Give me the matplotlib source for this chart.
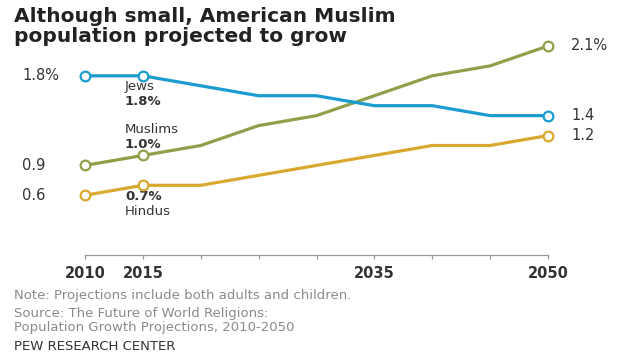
import matplotlib
matplotlib.use("Agg")
import matplotlib.pyplot as plt

years = [2010, 2015, 2020, 2025, 2030, 2035, 2040, 2045, 2050]
jews = [1.8, 1.8, 1.7, 1.6, 1.6, 1.5, 1.5, 1.4, 1.4]
muslims = [0.9, 1.0, 1.1, 1.3, 1.4, 1.6, 1.8, 1.9, 2.1]
hindus = [0.6, 0.7, 0.7, 0.8, 0.9, 1.0, 1.1, 1.1, 1.2]
tick_labels = {2010: "2010", 2015: "2015", 2035: "2035", 2050: "2050"}

c_jews = "#1a9ccf"
c_mus = "#8fa04a"
c_hin = "#d8a92e"
txt = "#333333"

plt.rcParams['font.family'] = ['DejaVu Sans']
fig = plt.figure(figsize=(6.22, 3.53), dpi=100)
ax = fig.add_axes([85/622, 1-255/353, (548-85)/622, (255-36)/353])
ax.set_xlim(2010, 2050)
ax.set_ylim(0, 2.2)

marker_idx = [0, 1, len(years)-1]
for vals, c in [(hindus, c_hin), (muslims, c_mus), (jews, c_jews)]:
    ax.plot(years, vals, color=c, lw=2.3, solid_joinstyle='miter', clip_on=False, zorder=3)
    ax.plot([years[i] for i in marker_idx], [vals[i] for i in marker_idx], 'o',
            ms=7, mfc='white', mec=c, mew=1.6, clip_on=False, zorder=4)

for s in ['top', 'right', 'left']:
    ax.spines[s].set_visible(False)
ax.spines['bottom'].set_color('#999999')
ax.spines['bottom'].set_linewidth(0.9)
ax.set_yticks([])
ax.set_xticks(years)
ax.set_xticklabels([tick_labels.get(y, "") for y in years], fontsize=10.5,
                   fontweight='bold', color=txt)
ax.tick_params(axis='x', length=3, width=0.9, color='#999999', pad=5)

# left value labels
fs = 10.5
for vals, lab in [(jews, f"{jews[0]}%"), (muslims, f"{muslims[0]}"), (hindus, f"{hindus[0]}")]:
    ax.annotate(lab, (years[0], vals[0]), xytext=(-63, 0), textcoords='offset pixels',
                ha='left', va='center', fontsize=fs, color=txt)
# right value labels
for vals, lab in [(muslims, f"{muslims[-1]}%"), (jews, f"{jews[-1]}"), (hindus, f"{hindus[-1]}")]:
    ax.annotate(lab, (years[-1], vals[-1]), xytext=(23, 0), textcoords='offset pixels',
                ha='left', va='center', fontsize=fs, color=txt)

# series labels
sfs = 9.5
ax.annotate("Jews", (years[1], jews[1]), xytext=(-18, -11), textcoords='offset pixels',
            ha='left', va='center', fontsize=sfs, color=txt)
ax.annotate(f"{jews[1]}%", (years[1], jews[1]), xytext=(-18, -26), textcoords='offset pixels',
            ha='left', va='center', fontsize=sfs, color=txt, fontweight='bold')
ax.annotate("Muslims", (years[1], muslims[1]), xytext=(-18, 26), textcoords='offset pixels',
            ha='left', va='center', fontsize=sfs, color=txt)
ax.annotate(f"{muslims[1]}%", (years[1], muslims[1]), xytext=(-18, 11), textcoords='offset pixels',
            ha='left', va='center', fontsize=sfs, color=txt, fontweight='bold')
ax.annotate(f"{hindus[1]}%", (years[1], hindus[1]), xytext=(-18, -11), textcoords='offset pixels',
            ha='left', va='center', fontsize=sfs, color=txt, fontweight='bold')
ax.annotate("Hindus", (years[1], hindus[1]), xytext=(-18, -26), textcoords='offset pixels',
            ha='left', va='center', fontsize=sfs, color=txt)

# title
fig.text(14/622, 1-17/353, "Although small, American Muslim", fontsize=14.5,
         fontweight='bold', color='#222222', va='center', ha='left')
fig.text(14/622, 1-37/353, "population projected to grow", fontsize=14.5,
         fontweight='bold', color='#222222', va='center', ha='left')

# footer
gray = "#8a8a8a"
fig.text(14/622, 1-296/353, "Note: Projections include both adults and children.",
         fontsize=9.5, color=gray, va='center', ha='left')
fig.text(14/622, 1-314/353, "Source: The Future of World Religions:",
         fontsize=9.5, color=gray, va='center', ha='left')
fig.text(14/622, 1-327/353, "Population Growth Projections, 2010-2050",
         fontsize=9.5, color=gray, va='center', ha='left')
fig.text(14/622, 1-346/353, "PEW RESEARCH CENTER",
         fontsize=9.5, color=txt, va='center', ha='left')

fig.savefig("out.png", dpi=100, facecolor='white')
